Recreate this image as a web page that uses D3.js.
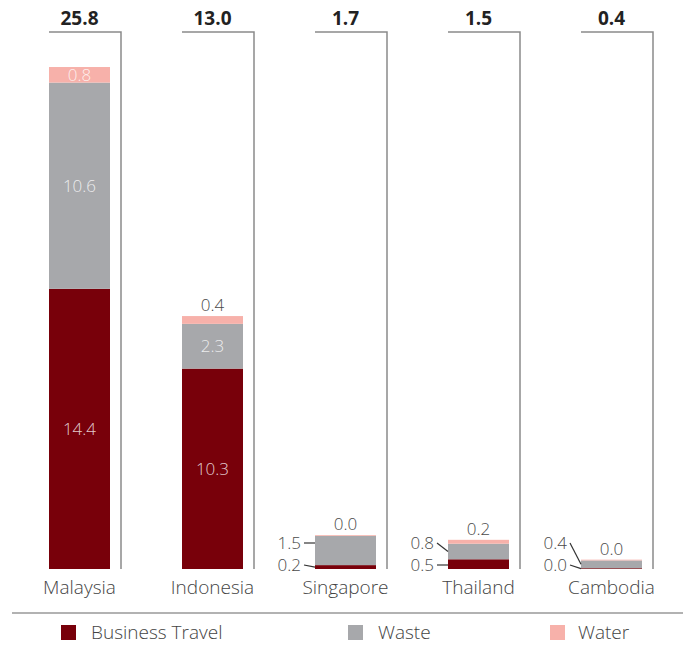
<!DOCTYPE html>
<html>
<head>
<meta charset="utf-8">
<script src="https://cdn.jsdelivr.net/npm/d3@7"></script>
<style>
  html, body { margin: 0; padding: 0; background: #fff; }
  svg { display: block; font-family: "Open Sans", "Noto Sans", sans-serif; }
</style>
</head>
<body>
<svg id="chart" width="683" height="648"></svg>
<script>
// ---- data ----
const countries = ["Malaysia", "Indonesia", "Singapore", "Thailand", "Cambodia"];
const seriesNames = ["Business Travel", "Waste", "Water"];
const businessTravel = [14.4, 10.3, 0.2, 0.5, 0.04];
const waste = [10.6, 2.3, 1.5, 0.8, 0.4];
const water = [0.8, 0.4, 0.04, 0.2, 0.04];
const totals = [25.8, 13.0, 1.7, 1.5, 0.4];
const colors = ["#78000a", "#a7a8ab", "#f7b1aa"];
// label placement per country: "inside" = inside segments, "small" = left callouts
const labelMode = ["inside", "inside", "small", "small", "small"];

const rows = countries.map((c, i) => ({
  country: c,
  "Business Travel": businessTravel[i],
  "Waste": waste[i],
  "Water": water[i],
  total: totals[i],
  mode: labelMode[i]
}));

const svg = d3.select("#chart");
const baseY = 569, topY = 32;

const x = d3.scaleBand()
  .domain(countries)
  .range([49, 642])
  .paddingInner(72 / 133)
  .paddingOuter(0);

const y = d3.scaleLinear().domain([0, 27.6]).range([baseY, topY]);

const stack = d3.stack().keys(seriesNames);
const stacked = stack(rows);

// brackets and totals
const bracket = svg.append("g");
rows.forEach(r => {
  const x0 = x(r.country), x1 = x0 + x.bandwidth() + 11;
  bracket.append("path")
    .attr("d", `M${x0},${topY}H${x1}V${baseY}`)
    .attr("fill", "none")
    .attr("stroke", "#8a8a8a")
    .attr("stroke-width", 1.5);
  bracket.append("text")
    .attr("x", x0 + x.bandwidth() / 2)
    .attr("y", topY - 7)
    .attr("text-anchor", "middle")
    .attr("font-size", 19)
    .attr("font-weight", 700)
    .attr("fill", "#222")
    .text(r.total.toFixed(1));
});

// bars
const gBars = svg.append("g");
stacked.forEach((s, si) => {
  gBars.selectAll(null)
    .data(s)
    .join("rect")
    .attr("x", d => x(d.data.country))
    .attr("width", x.bandwidth())
    .attr("y", d => y(d[1]))
    .attr("height", d => y(d[0]) - y(d[1]))
    .attr("fill", colors[si]);
});

// value labels
const gLab = svg.append("g").attr("font-size", 17).attr("font-weight", 300);
stacked.forEach((s, si) => {
  s.forEach(d => {
    const r = d.data;
    const v = d[1] - d[0];
    const cx = x(r.country) + x.bandwidth() / 2;
    const segTop = y(d[1]), segBot = y(d[0]);
    const mid = (segTop + segBot) / 2;
    const label = v.toFixed(1);
    const isWater = seriesNames[si] === "Water";
    const inside = r.mode === "inside" && (segBot - segTop) > 12;
    if (inside) {
      gLab.append("text")
        .attr("x", cx).attr("y", mid).attr("dy", "0.35em")
        .attr("text-anchor", "middle")
        .attr("fill", "#ffffff").attr("fill-opacity", 0.8)
        .text(label);
    } else if (isWater) {
      gLab.append("text")
        .attr("x", cx).attr("y", segTop - 11).attr("dy", "0.35em")
        .attr("text-anchor", "middle")
        .attr("fill", "#4a4a4a")
        .text(label);
    } else {
      // left callout
      const ly = si === 0 ? baseY - 4 : baseY - 26;
      const barLeft = x(r.country);
      const textEnd = barLeft - 14;
      const target = (ly >= segTop && ly <= segBot) ? ly : mid;
      gLab.append("text")
        .attr("x", textEnd).attr("y", ly).attr("dy", "0.35em")
        .attr("text-anchor", "end")
        .attr("fill", "#4a4a4a")
        .text(label);
      gLab.append("line")
        .attr("x1", textEnd + 3).attr("y1", ly)
        .attr("x2", barLeft).attr("y2", target)
        .attr("stroke", "#333").attr("stroke-width", 1.2);
    }
  });
});

// category labels
svg.append("g").selectAll("text")
  .data(countries)
  .join("text")
  .attr("x", d => x(d) + x.bandwidth() / 2)
  .attr("y", 594)
  .attr("text-anchor", "middle")
  .attr("font-size", 19)
  .attr("font-weight", 300)
  .attr("fill", "#444")
  .text(d => d);

// separator
svg.append("line")
  .attr("x1", 12).attr("x2", 683)
  .attr("y1", 613).attr("y2", 613)
  .attr("stroke", "#999").attr("stroke-width", 1.5);

// legend
const legendX = [61, 348, 550];
const legend = svg.append("g").selectAll("g")
  .data(seriesNames)
  .join("g")
  .attr("transform", (d, i) => `translate(${legendX[i]},625)`);
legend.append("rect")
  .attr("width", 15).attr("height", 15)
  .attr("fill", (d, i) => colors[i]);
legend.append("text")
  .attr("x", (d, i) => i === 2 ? 28 : 30)
  .attr("y", 7.5).attr("dy", "0.35em")
  .attr("font-size", 19)
  .attr("font-weight", 300)
  .attr("fill", "#444")
  .text(d => d);
</script>
</body>
</html>
